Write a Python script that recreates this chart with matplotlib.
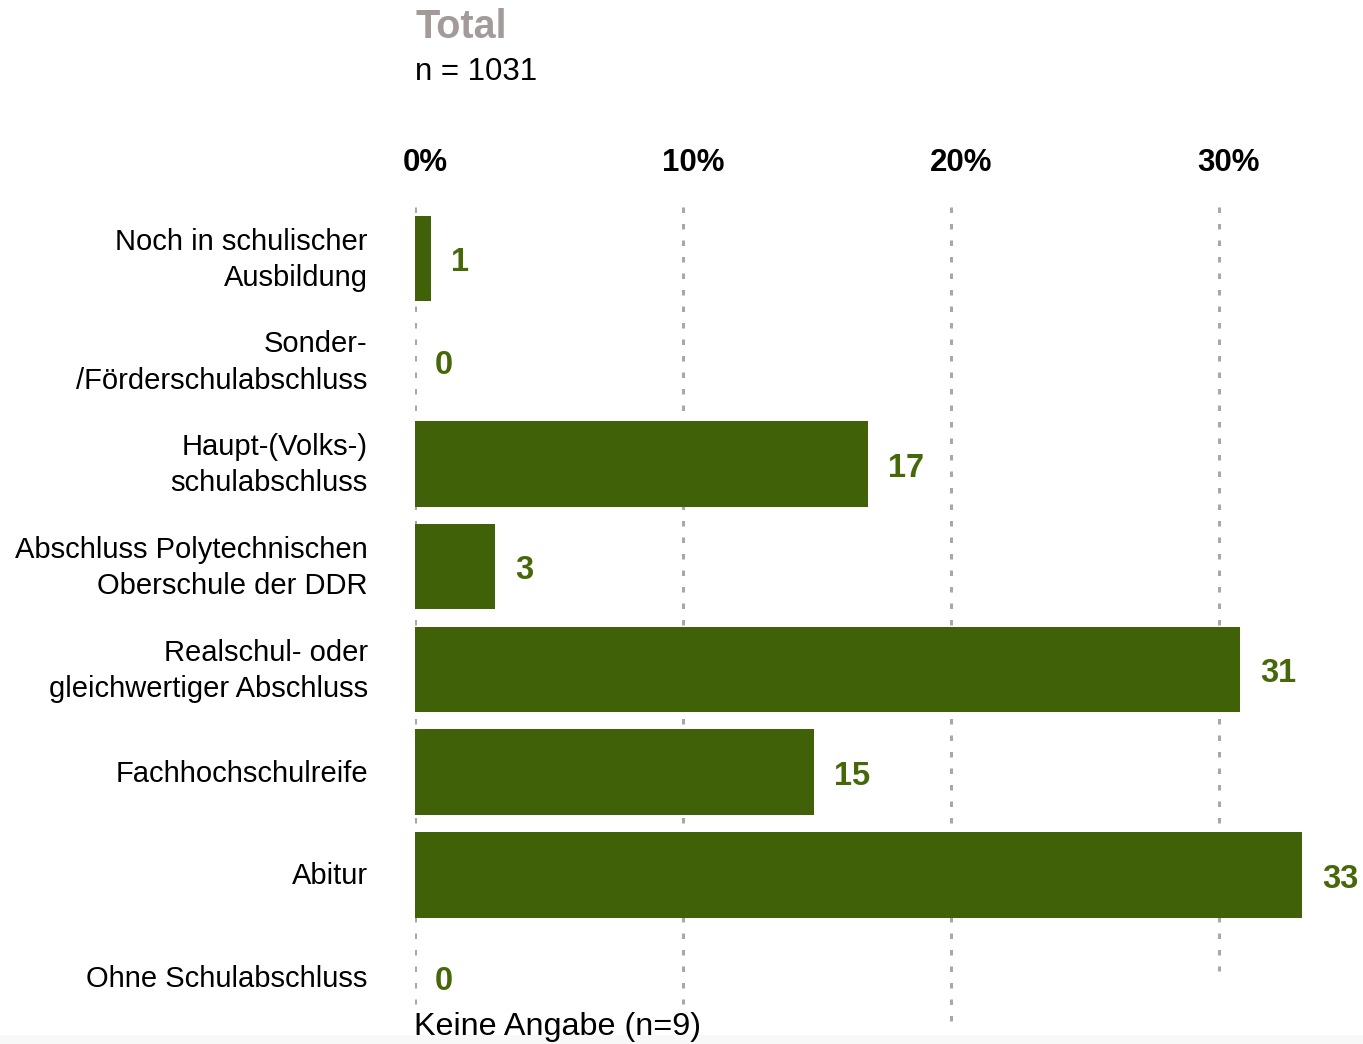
import matplotlib
matplotlib.use("Agg")
import matplotlib.pyplot as plt
from matplotlib.patches import Rectangle

plt.rcParams['font.family'] = ['Liberation Sans', 'DejaVu Sans']

categories = [
    "Noch in schulischer\nAusbildung",
    "Sonder-\n/Förderschulabschluss",
    "Haupt-(Volks-)\nschulabschluss",
    "Abschluss Polytechnischen\nOberschule der DDR",
    "Realschul- oder\ngleichwertiger Abschluss",
    "Fachhochschulreife",
    "Abitur",
    "Ohne Schulabschluss",
]
values = [0.6, 0.0, 16.9, 3.0, 30.8, 14.9, 33.1, 0.0]
value_labels = [str(int(round(v))) for v in values]
xticks = [0, 10, 20, 30]
xtick_labels = ["0%", "10%", "20%", "30%"]
grid_ends = [7.26, 7.26, 7.51, 6.94]
title = "Total"
subtitle = "n = 1031"
footnote = "Keine Angabe (n=9)"

BAR = "#416108"
LBL = "#466809"
GRID = "#a8a8a8"

W, H = 1363, 1044
fig = plt.figure(figsize=(W / 100, H / 100), dpi=100)
fig.patch.set_facecolor("white")
fig.patches.append(Rectangle((0, 0), 1, 9 / H, transform=fig.transFigure,
                             facecolor="#f8f8f8", edgecolor="none", zorder=0))

ax = fig.add_axes([415 / W, 1 - 1029 / H, 938 / W, (1029 - 207) / H])
ax.set_xlim(0, 35)
ax.set_ylim(len(categories) - 0.5, -0.5)
for s in ax.spines.values():
    s.set_visible(False)
ax.set_xticks([])
ax.set_yticks([])
ax.patch.set_alpha(0)

ypos = list(range(len(categories)))

for t, ye in zip(xticks, grid_ends):
    ax.vlines(t, -0.5, ye, colors=GRID, linewidth=2.2,
              linestyles=(0, (1.8, 3.6)), zorder=1)

ax.barh(ypos, values, height=0.83, color=BAR, zorder=2)

for y, v, lab in zip(ypos, values, value_labels):
    ax.annotate(lab, xy=(v, y), xytext=(14.5, -3), textcoords="offset points",
                ha="left", va="center", fontsize=23.5, fontweight="bold",
                color=LBL, zorder=3)

for y, c in zip(ypos, categories):
    ax.annotate(c, xy=(0, y), xytext=(-34, -1), textcoords="offset points",
                ha="right", va="center", multialignment="right",
                fontsize=21, color="black", linespacing=1.37)

for t, l in zip(xticks, xtick_labels):
    ax.annotate(l, xy=(t, 1), xycoords=("data", "axes fraction"),
                xytext=(7.2, 32), textcoords="offset points",
                ha="center", va="center", fontsize=22.5, fontweight="bold",
                color="black")

fig.text(415 / W, 1 - 38 / H, title, ha="left", va="baseline",
         fontsize=28.5, fontweight="bold", color="#a39a9a")
fig.text(415 / W, 1 - 80 / H, subtitle, ha="left", va="baseline",
         fontsize=22.5, color="black")
fig.text(414 / W, 1 - 1035 / H, footnote, ha="left", va="baseline",
         fontsize=23.3, color="black")

fig.savefig("out.png", dpi=100)
